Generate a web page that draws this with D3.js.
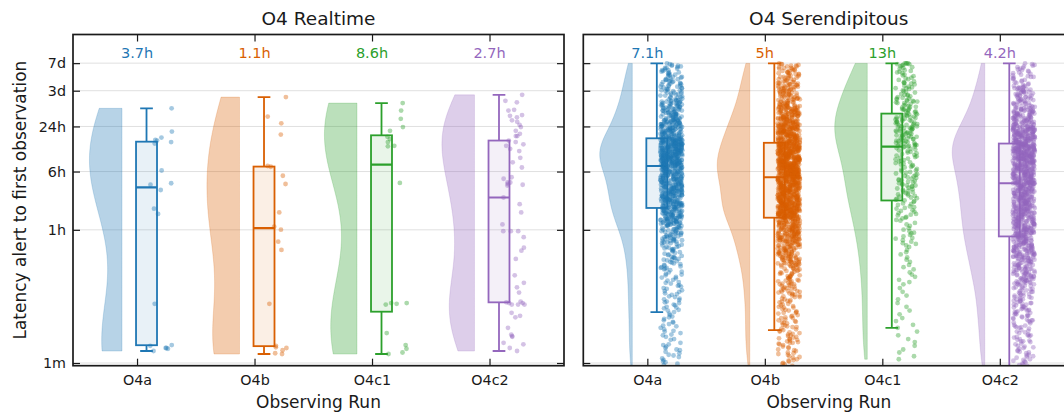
<!DOCTYPE html>
<html>
<head>
<meta charset="utf-8">
<script src="https://cdn.jsdelivr.net/npm/d3@7"></script>
<style>
  body { margin: 0; background: #fff; }
  svg { font-family: "DejaVu Sans", "Liberation Sans", sans-serif; }
</style>
</head>
<body>
<svg id="chart" width="1064" height="414"></svg>
<script>
// ---- data -------------------------------------------------------------
const runs = ["O4a", "O4b", "O4c1", "O4c2"];
const runColors = ["#1f77b4", "#d95f02", "#2ca02c", "#9467bd"];
const panelTitles = ["O4 Realtime", "O4 Serendipitous"];
const yTickMinutes = [1, 60, 360, 1440, 4320, 10080];
const yTickLabels = ["1m", "1h", "6h", "24h", "3d", "7d"];

// Realtime: latency alert -> first observation per event, log10(minutes)
const rtO4a = [0.16,0.19,0.20,0.20,0.23,0.24,0.79,1.99,2.06,2.31,2.38,2.40,2.57,2.93,2.95,2.97,2.98,3.01,3.09,3.40];
const rtO4b = [0.12,0.13,0.17,0.20,0.21,0.23,0.79,1.51,1.62,1.78,1.82,2.01,2.39,2.50,2.62,2.63,3.05,3.20,3.29,3.55];
const rtO4c1 = [0.12,0.14,0.19,0.24,0.40,0.78,0.79,0.80,0.80,2.404,2.893,2.90,2.95,2.99,3.02,3.10,3.15,3.26,3.37,3.47];
const rtO4c2 = [0.16,0.20,0.25,0.27,0.35,0.36,0.38,0.47,0.61,0.63,0.67,0.78,0.78,0.78,0.80,0.80,0.81,0.82,0.94,1.01,
  1.07,1.17,1.39,1.50,1.54,1.68,1.76,1.76,1.76,1.85,2.01,2.12,2.21,2.37,2.38,2.39,2.41,2.41,2.46,2.48,
  2.61,2.68,2.74,2.83,2.86,2.90,2.92,2.95,2.97,3.03,3.03,3.06,3.10,3.15,3.18,3.22,3.24,3.28,3.30,3.31,
  3.37,3.38,3.48,3.50,3.58];

// Serendipitous: number of events per 0.01-decade latency bin,
// first bin at log10(minutes) = -0.04, last bin at 4.00 (7 days)
const seLogStart = -0.04;
const seO4aCounts = [0,
  1,0,1,0,1,1,0,1,0,1, 0,1,0,1,1,0,1,0,1,0, 1,1,0,1,0,1,0,1,1,0, 1,0,0,0,1,1,0,0,
  1,0,1,1,0,1,0,1,1,0, 1,0,1,0,1,1,0,1,0,1, 1,0,1,0,1,0,1,1,0,1, 0,1,0,1,0,
  1,1,0,1,1,1,0,1,1,0,1, 1,1,0,1,1,1,0,1,1,0,1, 1,1,0,1,1,1,0,1,1,0,1, 1,1,0,1,1,1,0,1,1,0,1, 1,1,0,1,1,1,0,1,1,0,1,
  1,1,2,1,1,1,1, 1,1,1,1,1,1,2, 1,1,2,1,1,1,1, 1,1,1,1,1,1,2, 1,1,2,1,1,1,1,
  2,2,1,3,2, 2,2,1,3,2, 2,2,1,3,2, 2,2,1,3,2, 2,2,1,3,2,
  4,3,4,4,3,4,4,3,4,4,3, 4,4,3,4,4,3,4,4,3,4,3,
  4,5,4,4,5,4,4,5,4,4,5,4, 4,5,4,4,5,4,4,5,4,4,5,
  4,5,4,5,4,4,5,4,5,4,4, 4,5,4,5,4,4,5,4,5,4,4, 4,5,5,5,4,4,5,4,5,5,4,
  9,
  7,7,6,7,7,7,6,7,7,7,6, 7,7,7,7,7,7,6,7,7,7,7,
  7,7,6, 7,7,6, 7,7,6, 7,7,6, 7,7,6,
  4,5,3,4,4, 4,5,3,4,4, 4,5,3,4,4, 4,5,3,4,4, 4,5,3,4,4,
  3,3,2,3,3, 3,3,2,3,3, 3,3,2,3,3, 3,3,2,3,3, 3,3,2,3,3,
  2,2,1, 2,2,1, 2,2,1, 2,2,1, 2,2,1, 2,2,1, 2,2,1, 2,2,1, 2,2,1, 2,2,1,
  1,2,1,1,2,1,1,2,1,1, 2,1,1,2,1,1,2,1,1,1];
const seO4bCounts = [
  1,0,1,1,1,0,1,1,1,1, 0,1,1,1,0,1,1,1,1,0, 1,1,1,0,1,1,1,0,1,
  1,1,2,1,1,1,1,2,1,1, 1,1,1,1,1,1,1,1,1,1,
  1,1,0,2,1, 1,1,0,1,2, 1,1,1,1,0, 2,1,1,1,1, 0,1,2,1,1, 1,1,1,0,2, 1,1,1,1,1, 0,1,2,1,1, 1,1,0,2,1,
  2,1,1,2,1,2,2,1,1,2, 2,1,1,2,1,2,2,1,1,2, 2,1,1,2,1,2,2,1,1,2, 2,1,1,2,1,2,2,1,1,2,
  3,3,2,3,3,3,2,3, 3,3,2,3,3,3,2,3, 3,3,3,3,3,3,2,3, 3,3,3,3,3,3,2,3,
  4,4,5,4,4,4,5,4, 4,4,5,4,4,4,5,4, 4,4,5,4,4,4,5,4, 4,4,5,4,4,4,4,4,
  7,8,7,8,7,8,7,8,7,8, 7,8,7,8,7,8,7,8,7,8,
  6,7,6,7,6,7,6,7,6,7, 6,7,6,7,6,7,6,7,6,7, 6,7,6,7,6,7,6,7,6,7, 6,7,6,7,
  9,
  9,8,9,8,9,8,9,8,9,8, 9,8,9,8,9,8,9,8,9,8, 9,8,9,8,9,8,
  8,7,8,7,8,7,8,7,8,7, 8,7,8,7,8,7,8,7,8,7,
  6,7,5,6,6, 6,7,5,6,6, 6,7,5,6,6, 6,7,5,6,6, 6,7,5,6,6,
  5,4,4,4,4, 5,4,4,4,4, 5,4,4,4,4, 5,4,4,4,4, 5,4,4,4,4,
  3,2,3,2,3,2,3,2,3,2, 3,2,3,2,3,2,3,2,3,2, 3,2,3,2,3,2,3,2,3,2,
  2,2,1,2,2,2,1,2,2,2, 1,2,2,2,1,2,2,1,2,2, 1,2,2,1,2,1];
const seO4c1Counts = [0,0,0,0,0,0,0,0,0,
  1,0,0,0,1,0,0,0,0,1, 0,0,0,1,0,0,0,0,1,0, 0,0,0,1,0,
  0,0,1,0,0,0,0,1,0,0, 0,0,1,0,0,0,0,1,0,0, 0,1,0,0,0,0,1,0,0,0,
  1,0,0,0,0, 1,0,0,0,0, 1,0,0,0,0, 1,0,0,0,0, 1,0,0,0,0, 1,0,0,0,0, 1,0,0,0,0, 1,0,0,0,0, 1,0,0,0,0,
  1,0,0,1,0,0,1,0,0,0, 1,0,0,1,0,0,1,0,0,0, 1,0,0,1,0,0,1,0,0,0, 1,0,0,1,0,0,1,0,0,0, 1,0,0,1,0,0,1,0,0,0,
  1,0,1,0,1,1,0, 1,0,1,0,1,1,0, 1,0,1,0,1,1,0, 1,0,1,0,1,0,0, 1,0,1,0,1,0,0,
  1,1,0,1,1,1,0,1,1, 1,1,0,1,1,1,0,1,1, 1,1,0,1,1,1,0,1,1,
  1,1,1,1,1,1,1, 1,1,1,1,1,1,1, 1,1,1,1,1,1,2, 1,1,1,1,1,1,2,
  1,1,1,1,1,1,1,1,1,1, 1,1,1,1,1,0,1,1,1,1, 1,1,1,1,1,1,1,1,1,1, 1,1,1,1,1,1,1,1,1,1, 1,1,1,1,
  3,
  2,2,1,2,2,1,2,2,1,2,2,1,2, 2,2,1,2,2,1,2,2,1,2,2,2,2,
  2,2,1, 2,2,1, 2,2,1, 2,2,1, 2,2,1, 2,2,1,
  1,1,2,1,2,2,1,1,2,1,1, 1,1,2,1,2,2,1,1,2,1,1,
  1,1,2,1,0, 1,1,1,1,0, 1,2,1,1,1, 0,1,1,2,1, 1,0,1,1,1,
  1,0,1,1,1,0,1,1,1,1, 1,0,1,1,1,1,1,1,2,4];
const seO4c2Counts = [
  1,1,1,1,0,1, 1,1,1,1,0,1, 1,1,1,1,0,1, 1,1,1,1,0,1, 1,1,1,1,0,
  1,1,0,1,2,1,1,1,0,1, 1,1,2,1,0,1,1,1,1,1, 0,1,1,2,1,1,1,0,1,1, 1,1,2,1,1,1,1,
  1,2,1,2,1, 1,2,1,2,1, 1,2,1,2,1, 1,2,1,2,1, 1,2,1,2,1, 1,2,1,2,1, 1,2,1,2,1, 1,2,1,2,1, 1,2,1,
  2,3,2,3,2, 2,3,2,3,2, 2,3,2,3,2, 2,3,2,3,2, 2,3,2,3,2, 2,3,2,3,2, 2,3,2,3,2,
  3,3,4, 3,3,4, 3,3,4, 3,3,4, 3,3,4, 3,3,4, 3,3,4, 3,3,4, 3,3,4, 3,3,
  4,5,3,4,4, 4,5,3,4,4, 4,5,3,4,4, 4,5,3,4,4, 4,5,3,4,4, 4,5,3,4,4,
  4,4,5,4, 4,4,5,4, 4,4,5,4, 4,4,5,4, 4,4,5,4, 4,4,5,4, 4,4,5,4, 4,4,5,4, 4,4,5,4, 4,4,5,4, 4,
  12,
  5,5,4,5,5, 5,5,4,5,5, 5,5,4,5,5, 5,5,4,5,5, 5,5,4,5,5, 5,5,4,5,5,
  7,6,7,7,7, 6,7,7,7,6, 7,7,7,6,7, 7,7,6,7,7, 7,7,7,
  5,6,5,6,5,5,6,5,6,5,6, 5,6,5,6,5,5,6,5,6,5,6,
  3,4,3,4,3, 3,4,3,4,3, 3,4,3,4,3, 3,4,3,4,3, 3,4,3,3,3,
  2,3,2,1,2, 2,3,2,1,2, 2,3,2,1,2, 2,3,2,1,2, 2,3,2,1,2, 2,3,2,1,2,
  1,1,1,1,1,1,1,1,1,1, 1,2,1,1,1,1,1,1,1,1, 1,1,1,1,1,1,1,1,1,1];

// one latency value per event from the binned counts
const fromBins = counts => counts.flatMap((c, k) =>
  d3.range(c).map(() => (Math.round(seLogStart * 100) + k) / 100));

const panelGroups = [
  [rtO4a, rtO4b, rtO4c1, rtO4c2],
  [seO4aCounts, seO4bCounts, seO4c1Counts, seO4c2Counts].map(fromBins)
];

// ---- layout -----------------------------------------------------------
const svg = d3.select("#chart");
const plotTop = 34.5, plotBottom = 365.7;
const panelLeft = [73, 583.3], panelWidth = 491;

// positions inside one category slot (category units)
const violinEdge = -0.128, violinWidth = 0.277;
const boxLeft = -0.0085, boxRight = 0.17, capHalf = 0.054;
const stripCenter = 0.204, stripJitter = 0.094;

const y = d3.scaleLog()
  .domain([Math.pow(10, -0.036), Math.pow(10, 4.386)])
  .range([plotBottom, plotTop]);
const toMin = v => Math.pow(10, v);
const fmtHours = d3.format(".2~r");

function kde(vals, steps = 160) {
  const bw = d3.deviation(vals) * Math.pow(vals.length, -0.2);
  const lo = d3.min(vals), hi = d3.max(vals);
  return d3.range(steps + 1).map(k => {
    const t = lo + (hi - lo) * k / steps;
    let s = 0;
    for (const v of vals) { const z = (t - v) / bw; s += Math.exp(-0.5 * z * z); }
    return [t, s];
  });
}

panelGroups.forEach((groups, p) => {
  const left = panelLeft[p], right = left + panelWidth;
  const x = d3.scaleLinear().domain([-0.545, 3.634]).range([left, right]);
  const g = svg.append("g");

  svg.append("clipPath").attr("id", "clip" + p)
    .append("rect").attr("x", left).attr("y", plotTop)
    .attr("width", panelWidth).attr("height", plotBottom - plotTop);

  // horizontal grid
  g.append("g").selectAll("line").data(yTickMinutes).join("line")
    .attr("x1", left).attr("x2", right)
    .attr("y1", d => y(d)).attr("y2", d => y(d))
    .attr("stroke", "#e0e0e0").attr("stroke-width", 1);

  const body = g.append("g").attr("clip-path", `url(#clip${p})`);

  groups.forEach((vals, i) => {
    const color = runColors[i];

    // half violin
    const dens = kde(vals);
    const dmax = d3.max(dens, d => d[1]);
    const edge = x(i + violinEdge);
    const half = edge - x(i + violinEdge - violinWidth);
    body.append("path").datum(dens)
      .attr("d", d3.area()
        .y(d => y(toMin(d[0])))
        .x0(d => edge - half * d[1] / dmax)
        .x1(edge))
      .attr("fill", color).attr("fill-opacity", 0.32)
      .attr("stroke", color).attr("stroke-opacity", 0.25).attr("stroke-width", 0.8);

    // box plot (computed in log space)
    const q1 = d3.quantile(vals, 0.25), med = d3.median(vals), q3 = d3.quantile(vals, 0.75);
    const iqr = q3 - q1;
    const lowW = d3.min(vals.filter(v => v >= q1 - 1.5 * iqr));
    const highW = d3.max(vals.filter(v => v <= q3 + 1.5 * iqr));
    const bx0 = x(i + boxLeft), bx1 = x(i + boxRight), bxc = (bx0 + bx1) / 2;
    const cap = x(i + capHalf) - x(i);
    const box = body.append("g").attr("stroke", color).attr("fill", "none");
    box.append("line").attr("x1", bxc).attr("x2", bxc)
      .attr("y1", y(toMin(q3))).attr("y2", y(toMin(highW))).attr("stroke-width", 1.8);
    box.append("line").attr("x1", bxc).attr("x2", bxc)
      .attr("y1", y(toMin(q1))).attr("y2", y(toMin(lowW))).attr("stroke-width", 1.8);
    [highW, lowW].forEach(w => box.append("line")
      .attr("x1", bxc - cap).attr("x2", bxc + cap)
      .attr("y1", y(toMin(w))).attr("y2", y(toMin(w))).attr("stroke-width", 1.8));
    box.append("rect").attr("x", bx0).attr("width", bx1 - bx0)
      .attr("y", y(toMin(q3))).attr("height", y(toMin(q1)) - y(toMin(q3)))
      .attr("fill", color).attr("fill-opacity", 0.1).attr("stroke-width", 1.8);
    box.append("line").attr("x1", bx0).attr("x2", bx1)
      .attr("y1", y(toMin(med))).attr("y2", y(toMin(med))).attr("stroke-width", 2.2);

    // jittered strip of individual events
    const jitter = d3.randomUniform.source(d3.randomLcg(0.137 + 0.1 * (p * 4 + i)))(-1, 1);
    body.append("g").selectAll("circle").data(vals).join("circle")
      .attr("cx", () => x(i + stripCenter + stripJitter * jitter()))
      .attr("cy", v => y(toMin(v)))
      .attr("r", 2.4)
      .attr("fill", color).attr("fill-opacity", 0.4);

    // median latency label (hours)
    const medHours = d3.median(vals.map(toMin)) / 60;
    g.append("text").attr("x", x(i)).attr("y", 58.3)
      .attr("text-anchor", "middle").attr("fill", color)
      .attr("font-size", 14.5).text(fmtHours(medHours) + "h");
  });

  // axes: ticks inward on all four sides
  const styleAxis = a => {
    a.select(".domain").remove();
    a.attr("font-family", null).attr("font-size", 14.3).attr("color", "#1a1a1a");
    a.selectAll(".tick line").attr("stroke-width", 1.2);
    a.selectAll(".tick text").attr("fill", "#1a1a1a");
  };
  g.append("g").attr("transform", `translate(${left},0)`)
    .call(d3.axisLeft(y).tickValues(yTickMinutes)
      .tickFormat((d, k) => p === 0 ? yTickLabels[k] : "")
      .tickSizeInner(-7).tickSizeOuter(0).tickPadding(7))
    .call(styleAxis);
  g.append("g").attr("transform", `translate(${right},0)`)
    .call(d3.axisRight(y).tickValues(yTickMinutes).tickFormat(() => "")
      .tickSizeInner(-7).tickSizeOuter(0))
    .call(styleAxis);
  g.append("g").attr("transform", `translate(0,${plotBottom})`)
    .call(d3.axisBottom(x).tickValues([0, 1, 2, 3]).tickFormat(k => runs[k])
      .tickSizeInner(-7).tickSizeOuter(0).tickPadding(9))
    .call(styleAxis);
  g.append("g").attr("transform", `translate(0,${plotTop})`)
    .call(d3.axisTop(x).tickValues([0, 1, 2, 3]).tickFormat(() => "")
      .tickSizeInner(-7).tickSizeOuter(0))
    .call(styleAxis);

  // frame
  g.append("rect").attr("x", left).attr("y", plotTop)
    .attr("width", panelWidth).attr("height", plotBottom - plotTop)
    .attr("fill", "none").attr("stroke", "#1a1a1a").attr("stroke-width", 1.7);

  // titles
  g.append("text").attr("x", (left + right) / 2).attr("y", 25)
    .attr("text-anchor", "middle").attr("font-size", 18.5).attr("fill", "#1a1a1a")
    .text(panelTitles[p]);
  g.append("text").attr("x", (left + right) / 2).attr("y", 408)
    .attr("text-anchor", "middle").attr("font-size", 17).attr("fill", "#1a1a1a")
    .text("Observing Run");
});

svg.append("text")
  .attr("transform", `translate(25.5,${(plotTop + plotBottom) / 2}) rotate(-90)`)
  .attr("text-anchor", "middle").attr("font-size", 17).attr("fill", "#1a1a1a")
  .text("Latency alert to first observation");
</script>
</body>
</html>
